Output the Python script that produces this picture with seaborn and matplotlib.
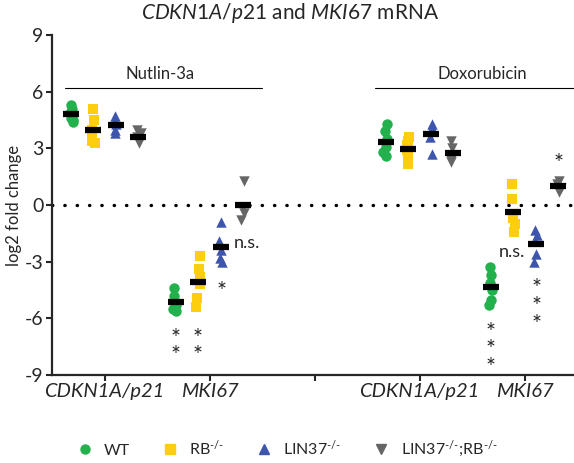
import numpy as np
import pandas as pd
import matplotlib
matplotlib.use("Agg")
import matplotlib.pyplot as plt
import seaborn as sns
from matplotlib.lines import Line2D

# ---------------- data ----------------
treatments = ["Nutlin-3a", "Doxorubicin"]
genes = ["CDKN1A/p21", "MKI67"]
genotypes = ["WT", "RB-/-", "LIN37-/-", "LIN37-/-;RB-/-"]
legend_labels = ["WT", r"RB$^{\text{-/-}}$", r"LIN37$^{\text{-/-}}$",
                 r"LIN37$^{\text{-/-}}$;RB$^{\text{-/-}}$"]

nut_p21_wt = [5.3, 5.1, 4.9, 4.6, 4.4, 4.5]
nut_p21_rb = [5.1, 4.5, 4.0, 3.5, 3.4, 3.3]
nut_p21_lin = [4.7, 4.5, 4.3, 4.0, 3.8]
nut_p21_linrb = [4.0, 3.8, 3.6, 3.4, 3.3]

nut_mki_wt = [-4.4, -4.8, -5.1, -5.3, -5.5, -5.6]
nut_mki_rb = [-2.7, -3.4, -3.8, -4.2, -4.9, -5.4]
nut_mki_lin = [-0.9, -1.9, -2.4, -2.8, -3.0]
nut_mki_linrb = [1.3, -0.1, -0.4, -0.8]

dox_p21_wt = [4.3, 3.9, 3.5, 3.1, 2.8, 2.6]
dox_p21_rb = [3.6, 3.4, 3.2, 2.9, 2.6, 2.2]
dox_p21_lin = [4.3, 4.1, 4.0, 3.6, 2.7]
dox_p21_linrb = [3.4, 3.0, 2.6, 2.4, 2.3]

dox_mki_wt = [-3.3, -3.7, -4.1, -4.5, -5.0, -5.3]
dox_mki_rb = [1.1, 0.3, -0.7, -1.0, -1.4]
dox_mki_lin = [-1.3, -1.6, -1.9, -2.6, -3.0]
dox_mki_linrb = [1.3, 1.1, 0.9, 0.7]

series = {
    ("Nutlin-3a", "CDKN1A/p21"): [nut_p21_wt, nut_p21_rb, nut_p21_lin, nut_p21_linrb],
    ("Nutlin-3a", "MKI67"): [nut_mki_wt, nut_mki_rb, nut_mki_lin, nut_mki_linrb],
    ("Doxorubicin", "CDKN1A/p21"): [dox_p21_wt, dox_p21_rb, dox_p21_lin, dox_p21_linrb],
    ("Doxorubicin", "MKI67"): [dox_mki_wt, dox_mki_rb, dox_mki_lin, dox_mki_linrb],
}

# significance stars: (treatment, gene, genotype index, number of stars, y of top star)
sig_labels = [
    ("Nutlin-3a", "MKI67", 0, 2, -6.75),
    ("Nutlin-3a", "MKI67", 1, 2, -6.75),
    ("Nutlin-3a", "MKI67", 2, 1, -4.25),
    ("Doxorubicin", "MKI67", 0, 3, -6.5),
    ("Doxorubicin", "MKI67", 2, 3, -4.2),
    ("Doxorubicin", "MKI67", 3, 1, 2.55),
]
ns_labels = [
    ("Nutlin-3a", "MKI67", 2, "n.s.", -2.0, 0.25),
    ("Doxorubicin", "MKI67", 1, "n.s.", -2.5, -0.01),
]

# ---------------- style ----------------
colors = ["#22b14c", "#fdcd0f", "#3d55ad", "#666666"]
markers = ["o", "s", "^", "v"]
cat_pos = {("Nutlin-3a", "CDKN1A/p21"): 0, ("Nutlin-3a", "MKI67"): 1,
           ("Doxorubicin", "CDKN1A/p21"): 3, ("Doxorubicin", "MKI67"): 4}
offsets = [-0.32, -0.11, 0.11, 0.32]

sns.set_style("ticks")
plt.rcParams["font.family"] = ["Lato", "DejaVu Sans"]
plt.rcParams["mathtext.fontset"] = "custom"
plt.rcParams["mathtext.rm"] = "Lato"
plt.rcParams["mathtext.it"] = "Lato:italic"

rows = []
for (tr, gene), groups in series.items():
    for gi, vals in enumerate(groups):
        for v in vals:
            rows.append({"treatment": tr, "gene": gene, "genotype": genotypes[gi],
                         "xp": cat_pos[(tr, gene)] + offsets[gi], "value": v})
df = pd.DataFrame(rows)

fig = plt.figure(figsize=(5.74, 4.63), dpi=100)
ax = fig.add_axes([0.0906, 0.19, 0.9094, 0.734])

np.random.seed(3)
for gi, g in enumerate(genotypes):
    sub = df[df["genotype"] == g]
    sns.stripplot(data=sub, x="xp", y="value", native_scale=True, color=colors[gi],
                  marker=markers[gi], size=7.5, linewidth=0, jitter=0.025,
                  ax=ax, zorder=3)

means = df.groupby(["genotype", "xp"])["value"].mean().reset_index()
ax.hlines(means["value"], means["xp"] - 0.075, means["xp"] + 0.075,
          color="black", lw=4.5, zorder=5)

ax.axhline(0, color="black", lw=2.4, ls=(0, (0.1, 3.6)), dash_capstyle="round", zorder=1)

ax.set_xlim(-0.5, 4.47)
ax.set_ylim(-9, 9)
ax.set_yticks([9, 6, 3, 0, -3, -6, -9])
ax.set_yticklabels(["9", "6", "3", "0", "-3", "-6", "-9"], fontsize=14)
ax.set_xticks([0, 1, 2, 3, 4])
ax.set_xticklabels(["CDKN1A/p21", "MKI67", "", "CDKN1A/p21", "MKI67"],
                   fontsize=14.5, style="italic")
ax.tick_params(axis="both", length=4, width=1.5, direction="out", pad=2)
ax.set_xlabel("")
ax.set_ylabel("log2 fold change", fontsize=12, labelpad=2)
sns.despine(ax=ax)
for s in ["left", "bottom"]:
    ax.spines[s].set_linewidth(1.6)

# treatment headers
ax.plot([-0.38, 1.5], [6.2, 6.2], color="black", lw=0.8, clip_on=False)
ax.text(0.53, 6.5, "Nutlin-3a", ha="center", va="bottom", fontsize=12)
ax.plot([2.58, 4.47], [6.2, 6.2], color="black", lw=0.8, clip_on=False)
ax.text(3.6, 6.5, "Doxorubicin", ha="center", va="bottom", fontsize=12)

star_step = 0.82
for tr, gene, gi, n, ytop in sig_labels:
    ymid = ytop - (n - 1) * star_step / 2 - 0.35
    ax.text(cat_pos[(tr, gene)] + offsets[gi], ymid, "\n".join(["*"] * n),
            ha="center", va="center", fontsize=17, linespacing=0.8)
for tr, gene, gi, lab, y, dx in ns_labels:
    ax.text(cat_pos[(tr, gene)] + offsets[gi] + dx, y, lab, ha="center", va="center",
            fontsize=13)

fig.text(0.505, 0.972, r"$\mathit{CDKN1A/p21}$ and $\mathit{MKI67}$ mRNA",
         ha="center", va="center", fontsize=15)

handles = [Line2D([], [], marker=m, color=c, ls="none", markersize=6.5)
           for m, c in zip(markers, colors)]
fig.legend(handles, legend_labels, loc="center", bbox_to_anchor=(0.5, 0.03),
           ncol=4, frameon=False, fontsize=11.5, handletextpad=0.7, columnspacing=2.0,
           handlelength=1.0)

fig.savefig("out.png", dpi=100)
